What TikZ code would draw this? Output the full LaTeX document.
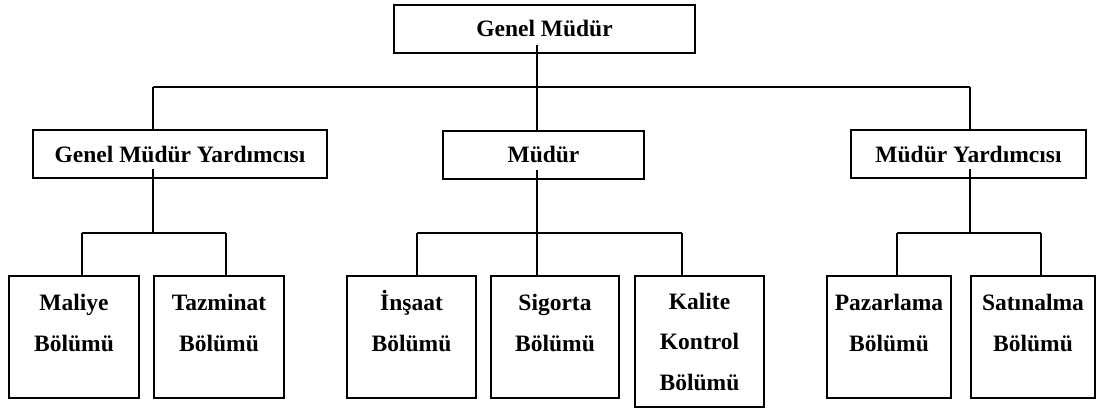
\documentclass[tikz,border=0pt]{standalone}
\usepackage{fontspec}
\setmainfont{Liberation Serif}
\begin{document}
\begin{tikzpicture}[x=1pt,y=-1pt,
  orgfont/.style={font=\bfseries\fontsize{23.5}{40.5}\selectfont},
  unit/.style={draw,line width=2pt,inner sep=0pt,minimum height=48pt,orgfont},
  dept/.style={draw,line width=2pt,inner sep=0pt,minimum height=122pt},
  lbl/.style={inner sep=0pt,align=center,anchor=base,orgfont},
  wire/.style={line width=1.5pt}]
\useasboundingbox (0,0) rectangle (1115,410);

% management levels
\node[unit,minimum width=301pt] (gm)  at (544.5,28.5) {Genel Müdür};
\node[unit,minimum width=294pt] (gmy) at (180,154)    {Genel Müdür Yardımcısı};
\node[unit,minimum width=201pt] (mud) at (543.5,154.5){Müdür};
\node[unit,minimum width=235pt] (my)  at (968.5,154)  {Müdür Yardımcısı};

% departments
\node[dept,minimum width=130pt] (maliye)   at (74,337)    {};
\node[dept,minimum width=130pt] (tazminat) at (219,337)   {};
\node[dept,minimum width=129pt] (insaat)   at (411.5,337) {};
\node[dept,minimum width=128pt] (sigorta)  at (555,337)   {};
\node[dept,minimum width=129pt,minimum height=131pt] (kalite) at (699.5,341.5) {};
\node[dept,minimum width=124pt] (pazar)    at (889,337)   {};
\node[dept,minimum width=124pt] (satin)    at (1033,337)  {};

% department names (anchored on the baseline of the last line)
\node[lbl] (tmaliye)   at ([yshift=-76pt]maliye.north)   {Maliye\\Bölümü};
\node[lbl] (ttazminat) at ([yshift=-76pt]tazminat.north) {Tazminat\\Bölümü};
\node[lbl] (tinsaat)   at ([yshift=-76pt]insaat.north)   {İnşaat\\Bölümü};
\node[lbl] (tsigorta)  at ([yshift=-76pt]sigorta.north)  {Sigorta\\Bölümü};
\node[lbl] (tkalite)   at ([yshift=-115pt]kalite.north)  {Kalite\\Kontrol\\Bölümü};
\node[lbl] (tpazar)    at ([yshift=-76pt]pazar.north)    {Pazarlama\\Bölümü};
\node[lbl] (tsatin)    at ([yshift=-76pt]satin.north)    {Satınalma\\Bölümü};

% branch points
\coordinate (top) at (537,87);
\coordinate (lftdrop) at (153,87);
\coordinate (rgtdrop) at (970,87);
\coordinate (lbar) at (153,233);
\coordinate (l1) at (82,233);
\coordinate (l2) at (226,233);
\coordinate (mbar) at (537,233);
\coordinate (m1) at (417,233);
\coordinate (m3) at (682,233);
\coordinate (rbar) at (970,233);
\coordinate (r1) at (897,233);
\coordinate (r2) at (1041,233);

% first level
\draw[wire] (top |- gm.south) ++(0,-9) -- (top);
\draw[wire] (lftdrop) -- (rgtdrop);
\draw[wire] (lftdrop) -- (lftdrop |- gmy.north);
\draw[wire] (top) -- (top |- mud.north);
\draw[wire] (rgtdrop) -- (rgtdrop |- my.north);

% second level
\draw[wire] (lbar |- gmy.south) ++(0,-10) -- (lbar);
\draw[wire] (l1) -- (l2);
\draw[wire] (l1) -- (l1 |- maliye.north);
\draw[wire] (l2) -- (l2 |- tazminat.north);

\draw[wire] (mbar |- mud.south) ++(0,-10) -- (mbar);
\draw[wire] (m1) -- (m3);
\draw[wire] (m1) -- (m1 |- insaat.north);
\draw[wire] (mbar) -- (mbar |- sigorta.north);
\draw[wire] (m3) -- (m3 |- kalite.north);

\draw[wire] (rbar |- my.south) ++(0,-10) -- (rbar);
\draw[wire] (r1) -- (r2);
\draw[wire] (r1) -- (r1 |- pazar.north);
\draw[wire] (r2) -- (r2 |- satin.north);
\end{tikzpicture}
\end{document}
